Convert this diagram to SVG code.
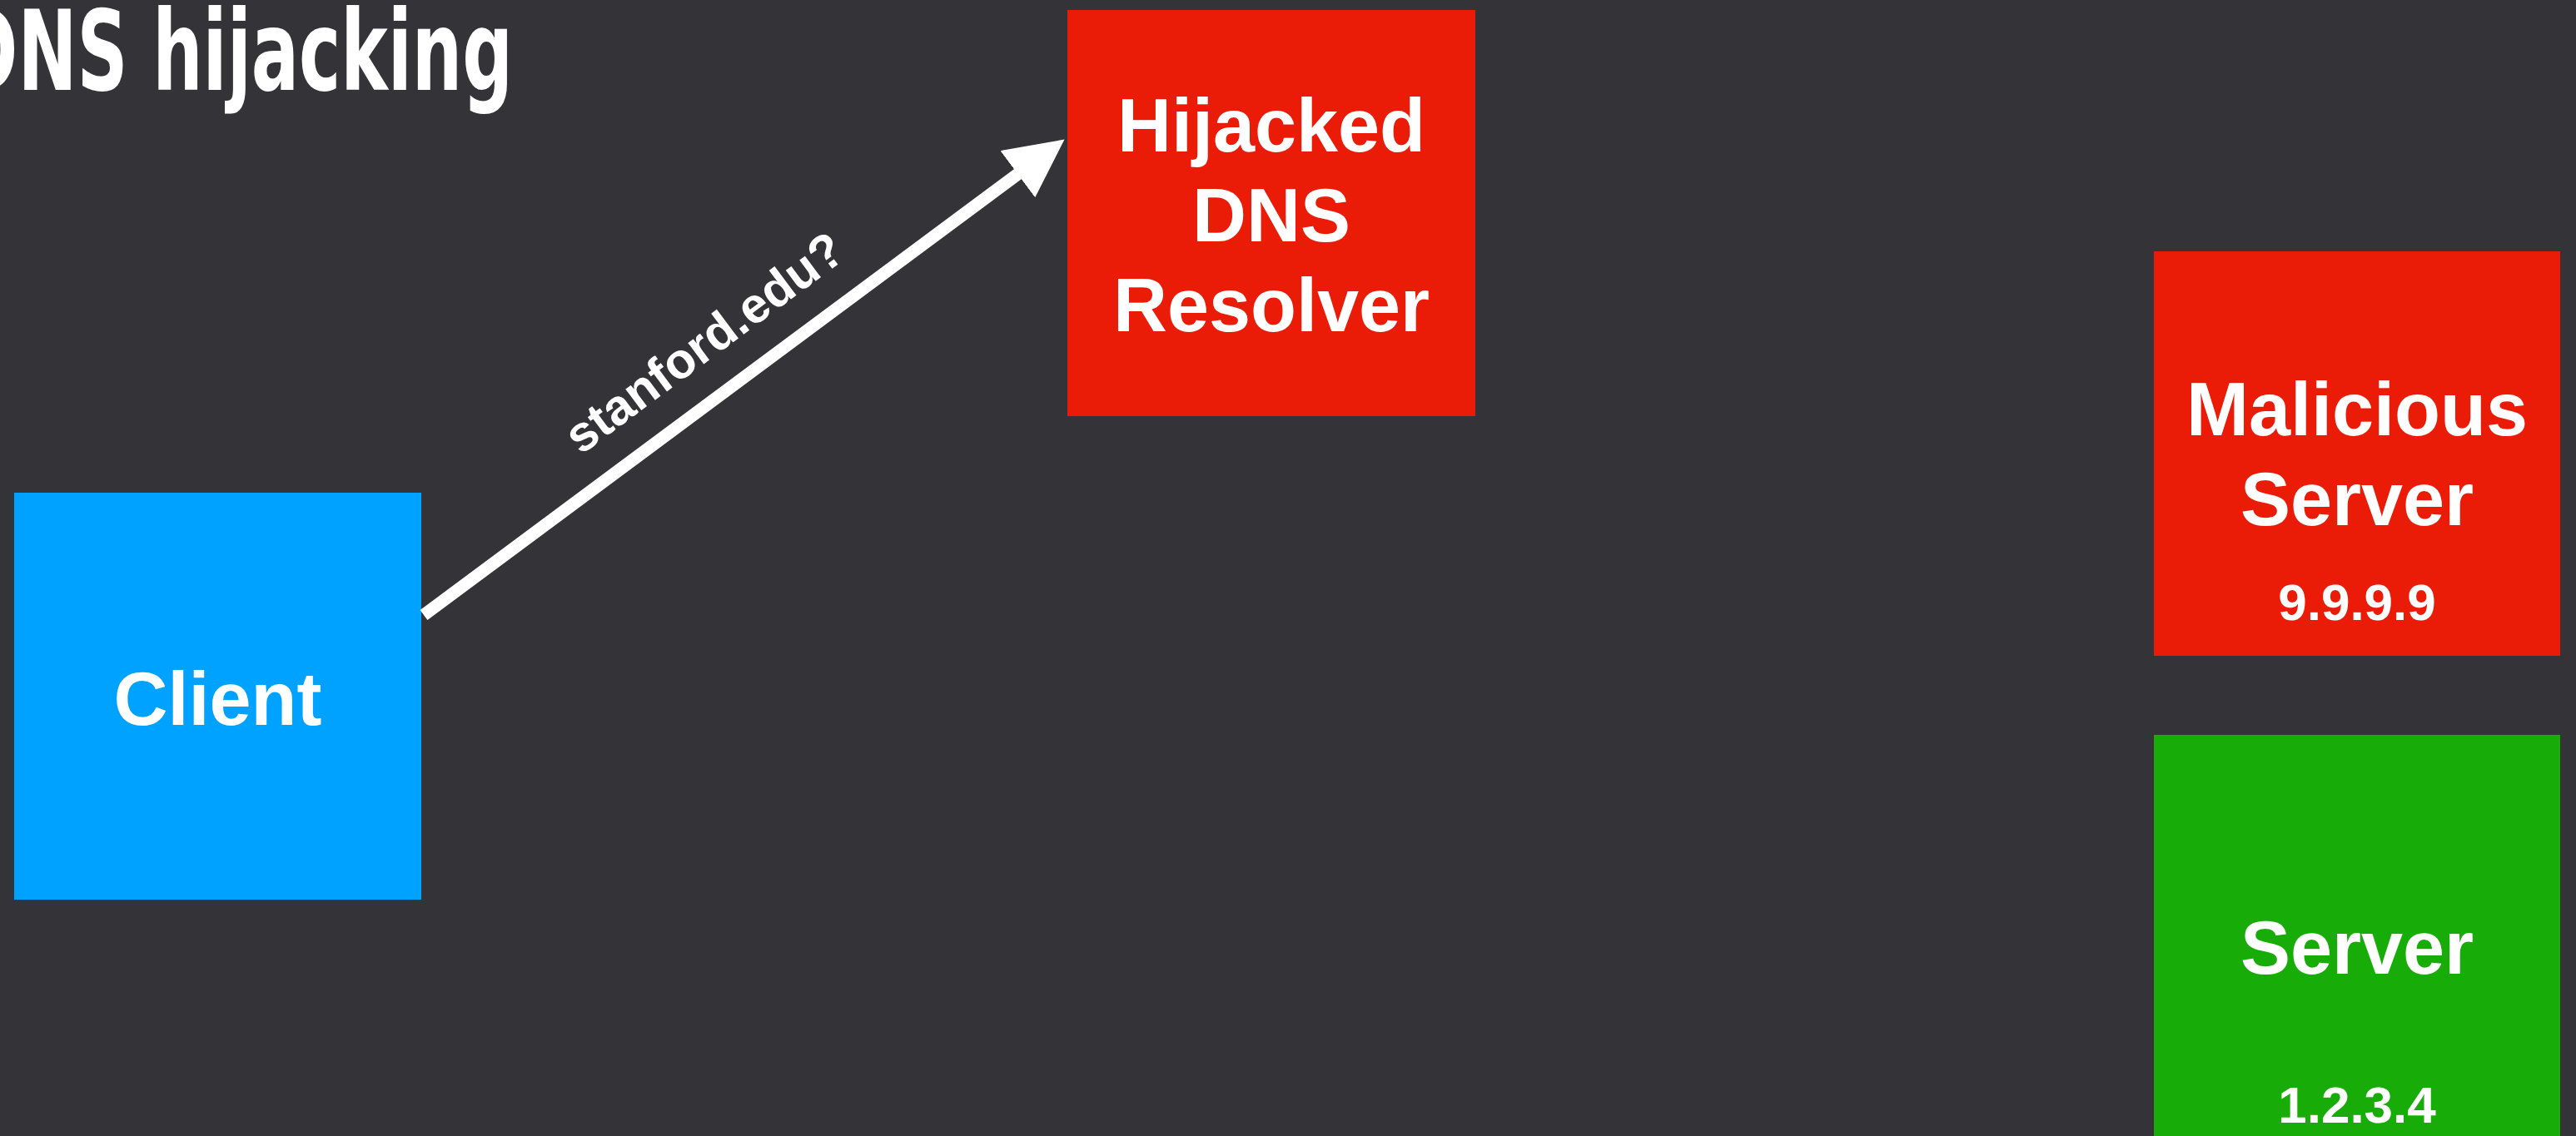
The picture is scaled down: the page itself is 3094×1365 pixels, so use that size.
<svg xmlns="http://www.w3.org/2000/svg" width="3094" height="1365" viewBox="0 0 3094 1365">
  <style>
    .bg { fill: #333338; }
    .red { fill: #EA1C08; }
    .blue { fill: #00A2FF; }
    .green { fill: #17AC07; }
    .label { fill: #FFFFFF; font-family: "Liberation Sans", Arial, sans-serif; font-weight: bold; font-size: 90px; text-anchor: middle; }
    .ip { fill: #FFFFFF; font-family: "Liberation Sans", Arial, sans-serif; font-weight: bold; font-size: 62px; text-anchor: middle; }
    .title { fill: #FFFFFF; font-family: "DejaVu Sans Condensed", "DejaVu Sans", sans-serif; font-weight: bold; font-size: 133px; }
    .edge { stroke: #FFFFFF; stroke-width: 15; fill: none; }
    .edge-label { fill: #FFFFFF; font-family: "Liberation Sans", Arial, sans-serif; font-weight: bold; font-size: 60px; text-anchor: middle; }
  </style>
  <defs>
    <marker id="arrowhead" markerUnits="userSpaceOnUse" markerWidth="70" markerHeight="70" viewBox="0 0 68 68" refX="2" refY="34" orient="auto">
      <path d="M0,0 L68,34 L0,68 Z" fill="#FFFFFF"/>
    </marker>
  </defs>
  <rect class="bg" x="0" y="0" width="3094" height="1365"/>
  <text class="title" x="-49" y="108" textLength="665" lengthAdjust="spacingAndGlyphs">DNS hijacking</text>

  <g id="client">
    <rect class="blue" x="17" y="592" width="489" height="489"/>
    <text class="label" x="261.5" y="871">Client</text>
  </g>

  <g id="resolver">
    <rect class="red" x="1282" y="12" width="490" height="488"/>
    <text class="label" x="1527" y="182">Hijacked</text>
    <text class="label" x="1527" y="290">DNS</text>
    <text class="label" x="1527" y="398">Resolver</text>
  </g>

  <g id="malicious-server">
    <rect class="red" x="2587" y="302" width="488" height="486"/>
    <text class="label" x="2831" y="523">Malicious</text>
    <text class="label" x="2831" y="631">Server</text>
    <text class="ip" x="2831" y="745">9.9.9.9</text>
  </g>

  <g id="server">
    <rect class="green" x="2587" y="883" width="488" height="482"/>
    <text class="label" x="2831" y="1170">Server</text>
    <text class="ip" x="2831" y="1349">1.2.3.4</text>
  </g>

  <g id="connectors">
    <line class="edge" x1="509" y1="739" x2="1224" y2="208" marker-end="url(#arrowhead)"/>
    <text class="edge-label" x="858" y="428" transform="rotate(-36.6 858 428)">stanford.edu?</text>
  </g>
</svg>
